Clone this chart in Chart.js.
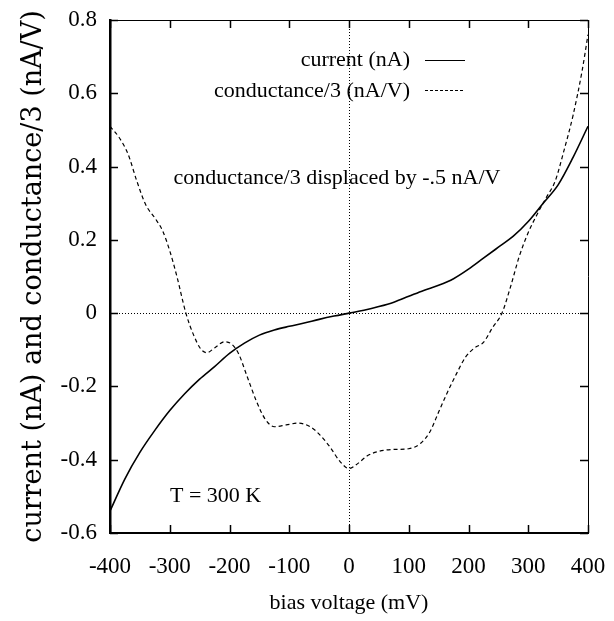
<!DOCTYPE html>
<html>
<head>
<meta charset="utf-8">
<script src="https://cdn.jsdelivr.net/npm/chart.js@4"></script>
<style>
  body { margin: 0; background: #fff; }
  #wrap { width: 614px; height: 621px; }
</style>
</head>
<body>
<div id="wrap"><canvas id="chart" width="614" height="621"></canvas></div>
<script>
// bias voltage (mV) and current (nA)
const currentVoltage = [-400, -375, -350, -325, -300, -275, -250, -225, -200, -175, -150, -125, -100, -75, -50, -25,
  0, 25, 50, 75, 100, 125, 150, 175, 200, 225, 250, 275, 300, 325, 350, 375, 400];
const currentValues = [-0.54, -0.452, -0.38, -0.32, -0.266, -0.22, -0.18, -0.146, -0.11, -0.082, -0.06, -0.046, -0.036, -0.027, -0.017, -0.008,
  0, 0.008, 0.018, 0.03, 0.046, 0.062, 0.076, 0.094, 0.12, 0.15, 0.18, 0.21, 0.25, 0.3, 0.35, 0.425, 0.51];

// conductance/3 displaced by -0.5 nA/V
const condVoltage = [-400, -385, -370, -355, -340, -325, -312, -300, -288, -273, -260, -248, -238, -225, -208, -196, -185, -170, -155, -140,
  -125, -105, -85, -65, -50, -32, -15, 0, 15, 30, 50, 75, 100, 120, 135, 150, 165, 180, 195, 210,
  225, 240, 256, 270, 285, 300, 315, 330, 345, 360, 375, 390, 400];
const condValues = [0.51, 0.48, 0.435, 0.36, 0.295, 0.26, 0.225, 0.17, 0.1, 0, -0.06, -0.098, -0.108, -0.095, -0.078, -0.085, -0.11, -0.175, -0.24, -0.29,
  -0.31, -0.305, -0.3, -0.31, -0.33, -0.365, -0.405, -0.424, -0.41, -0.39, -0.377, -0.372, -0.37, -0.355, -0.325, -0.27, -0.215, -0.165, -0.12, -0.095,
  -0.08, -0.04, 0, 0.07, 0.155, 0.22, 0.27, 0.315, 0.36, 0.445, 0.54, 0.66, 0.76];

const xTicks = [-400, -300, -200, -100, 0, 100, 200, 300, 400];
const yTicks = [-0.6, -0.4, -0.2, 0, 0.2, 0.4, 0.6, 0.8];

const serif = '"Liberation Serif", "Times New Roman", serif';

const toPoints = (xs, ys) => xs.map((x, i) => ({ x: x, y: ys[i] }));

// frame, inward ticks, zero lines, legend and labels
const decorations = {
  id: 'decorations',
  beforeDatasetsDraw(chart) {
    const { ctx, chartArea: a, scales: { x, y } } = chart;
    ctx.save();
    ctx.strokeStyle = '#000';
    ctx.lineWidth = 1;
    ctx.setLineDash([1, 2]);
    const x0 = Math.round(x.getPixelForValue(0)) + 0.5;
    const y0 = Math.round(y.getPixelForValue(0)) + 0.5;
    ctx.beginPath();
    ctx.moveTo(x0, a.top); ctx.lineTo(x0, a.bottom);
    ctx.moveTo(a.left, y0); ctx.lineTo(a.right, y0);
    ctx.stroke();
    ctx.restore();
  },
  afterDraw(chart) {
    const { ctx, chartArea: a, scales: { x, y } } = chart;
    ctx.save();
    ctx.strokeStyle = '#000';
    ctx.lineWidth = 1;
    ctx.beginPath();
    ctx.moveTo(a.left, a.top + 0.5); ctx.lineTo(a.right + 0.5, a.top + 0.5); ctx.lineTo(a.right + 0.5, a.bottom);
    ctx.stroke();

    const tl = 8;
    ctx.lineWidth = 1.5;
    ctx.beginPath();
    xTicks.forEach(v => {
      const px = Math.round(x.getPixelForValue(v)) + 0.5;
      ctx.moveTo(px, a.bottom); ctx.lineTo(px, a.bottom - tl);
      ctx.moveTo(px, a.top); ctx.lineTo(px, a.top + tl);
    });
    yTicks.forEach(v => {
      const py = Math.round(y.getPixelForValue(v)) + 0.5;
      ctx.moveTo(a.left, py); ctx.lineTo(a.left + tl, py);
      ctx.moveTo(a.right, py); ctx.lineTo(a.right - tl, py);
    });
    ctx.stroke();

    ctx.fillStyle = '#000';
    ctx.font = '22px ' + serif;
    ctx.textBaseline = 'middle';
    ctx.textAlign = 'right';
    ctx.fillText('current (nA)', 410, 60);
    ctx.fillText('conductance/3 (nA/V)', 410, 91);
    ctx.lineWidth = 1.2;
    ctx.beginPath();
    ctx.moveTo(425, 60.5); ctx.lineTo(465, 60.5);
    ctx.stroke();
    ctx.setLineDash([3, 2]);
    ctx.lineWidth = 1;
    ctx.beginPath();
    ctx.moveTo(425, 90.5); ctx.lineTo(465, 90.5);
    ctx.stroke();
    ctx.setLineDash([]);

    ctx.textAlign = 'center';
    ctx.fillText('conductance/3 displaced by -.5 nA/V', 337, 178);
    ctx.textAlign = 'left';
    ctx.fillText('T = 300 K', 170, 496);
    ctx.restore();
  }
};

new Chart(document.getElementById('chart'), {
  type: 'scatter',
  data: {
    datasets: [
      {
        label: 'current (nA)',
        data: toPoints(currentVoltage, currentValues),
        showLine: true,
        borderColor: '#000',
        borderWidth: 1.6,
        pointRadius: 0,
        cubicInterpolationMode: 'monotone'
      },
      {
        label: 'conductance/3 (nA/V)',
        data: toPoints(condVoltage, condValues),
        showLine: true,
        borderColor: '#000',
        borderWidth: 1.2,
        borderDash: [4, 3],
        pointRadius: 0,
        cubicInterpolationMode: 'monotone'
      }
    ]
  },
  options: {
    responsive: false,
    animation: false,
    layout: { padding: { top: 20, right: 26, left: 0, bottom: 0 } },
    plugins: { legend: { display: false }, tooltip: { enabled: false } },
    scales: {
      x: {
        type: 'linear',
        min: -400,
        max: 400,
        afterBuildTicks: s => { s.ticks = xTicks.map(v => ({ value: v })); },
        afterFit: s => { s.height = 88; s.paddingLeft = 0; s.paddingRight = 0; },
        grid: { display: false, drawTicks: false },
        border: { display: true, color: '#000', width: 2 },
        ticks: { color: '#000', padding: 20, font: { family: serif, size: 23 } },
        title: {
          display: true,
          text: 'bias voltage (mV)',
          color: '#000',
          padding: { top: 5, bottom: 5 },
          font: { family: serif, size: 22 }
        }
      },
      y: {
        type: 'linear',
        min: -0.6,
        max: 0.8,
        afterBuildTicks: s => { s.ticks = yTicks.map(v => ({ value: v })); },
        afterFit: s => { s.width = 110; s.paddingTop = 0; s.paddingBottom = 0; },
        grid: { display: false, drawTicks: false },
        border: { display: true, color: '#000', width: 2.5 },
        ticks: {
          color: '#000',
          padding: 13,
          font: { family: serif, size: 23 },
          callback: v => Math.abs(v) < 1e-9 ? '0' : v.toFixed(1)
        },
        title: {
          display: true,
          text: 'current (nA) and conductance/3 (nA/V)',
          color: '#000',
          padding: { top: 18, bottom: 0 },
          font: { family: '"DejaVu Serif", serif', size: 27 }
        }
      }
    }
  },
  plugins: [decorations]
});
</script>
</body>
</html>
